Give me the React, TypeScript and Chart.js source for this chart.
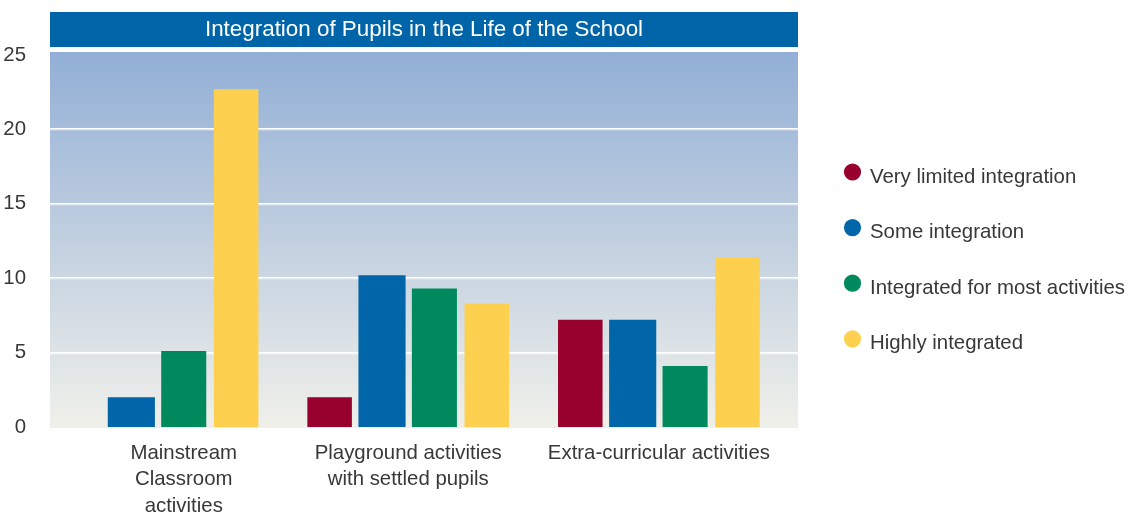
import React, { useEffect, useRef } from "react";
import { Chart, registerables } from "chart.js";

Chart.register(...registerables);

// ---------- data ----------
const TITLE = "Integration of Pupils in the Life of the School";
const CATEGORIES: string[][] = [
  ["Mainstream", "Classroom", "activities"],
  ["Playground activities", "with settled pupils"],
  ["Extra-curricular activities"],
];
const SERIES_NAMES = [
  "Very limited integration",
  "Some integration",
  "Integrated for most activities",
  "Highly integrated",
];
const VERY_LIMITED: (number | null)[] = [null, 2, 7.2];
const SOME: (number | null)[] = [2, 10.2, 7.2];
const MOST: (number | null)[] = [5.1, 9.3, 4.1];
const HIGHLY: (number | null)[] = [22.7, 8.3, 11.4];
const SERIES_VALUES = [VERY_LIMITED, SOME, MOST, HIGHLY];
const Y_MIN = 0;
const Y_MAX = 25;
const Y_STEP = 5;

// ---------- style ----------
const COLORS = ["#98002E", "#0066A9", "#00895C", "#FDD14F"];
const BAR_PCT = [0.85, 0.9, 0.86, 0.85];
const CAT_PCT = 0.836;
const X_MIN = -0.429;
const X_MAX = 2.555;
const FONT = '"Liberation Sans", Arial, Helvetica, sans-serif';
const TEXT = "#383838";
const FONT_SIZE = 20.4;

// label of a category sits under the centre of the bars it actually shows
const labelPositions = () =>
  CATEGORIES.map((_, i) => {
    const present = SERIES_VALUES.map((v, k) => (v[i] == null ? -1 : k)).filter((k) => k >= 0);
    const mean = present.reduce((a, b) => a + b, 0) / present.length;
    const n = SERIES_VALUES.length;
    return i + ((mean - (n - 1) / 2) * CAT_PCT) / n;
  });

const backdrop = {
  id: "backdrop",
  beforeDraw(chart: any) {
    const { ctx, chartArea: a } = chart;
    const top = a.top - 3;
    const bottom = a.bottom + 1;
    const g = ctx.createLinearGradient(0, top, 0, bottom);
    g.addColorStop(0, "#92AFD6");
    g.addColorStop(1, "#F0F0EA");
    ctx.save();
    ctx.fillStyle = g;
    ctx.fillRect(a.left, top, a.right - a.left, bottom - top);
    // title band
    ctx.fillStyle = "#0065A8";
    ctx.fillRect(a.left, a.top - 43, a.right - a.left, 35);
    ctx.restore();
  },
  beforeDatasetsDraw(chart: any) {
    const { ctx, chartArea: a, scales } = chart;
    const y = scales.y;
    ctx.save();
    y.ticks.forEach((t: any) => {
      if (t.value <= y.min || t.value >= y.max) return;
      const py = Math.round(y.getPixelForValue(t.value));
      ctx.fillStyle = "#ffffff";
      ctx.fillRect(a.left, py - 1, a.right - a.left, 1.5);
      ctx.fillStyle = "rgba(255,255,255,0.45)";
      ctx.fillRect(a.left, py + 0.5, a.right - a.left, 1);
    });
    ctx.restore();
  },
};

const sideLegend = {
  id: "sideLegend",
  afterDraw(chart: any) {
    const { ctx, chartArea: a } = chart;
    ctx.save();
    ctx.font = `${FONT_SIZE}px ${FONT}`;
    ctx.textBaseline = "middle";
    ctx.textAlign = "left";
    chart.data.datasets.forEach((ds: any, i: number) => {
      const y = 177 + i * 55.6;
      ctx.fillStyle = ds.backgroundColor;
      ctx.beginPath();
      ctx.arc(a.right + 54.5, y - 5, 8.6, 0, Math.PI * 2);
      ctx.fill();
      ctx.fillStyle = TEXT;
      ctx.fillText(ds.label, a.right + 72, y);
    });
    ctx.restore();
  },
};

export default function App() {
  const ref = useRef<HTMLCanvasElement | null>(null);

  useEffect(() => {
    if (!ref.current) return;
    const tickFont = { family: FONT, size: FONT_SIZE, lineHeight: 1.3 };
    const chart = new Chart(ref.current, {
      type: "bar",
      data: {
        labels: CATEGORIES.map((_, i) => i),
        datasets: SERIES_NAMES.map((name, k) => ({
          label: name,
          data: SERIES_VALUES[k],
          backgroundColor: COLORS[k],
          borderWidth: 0,
          barPercentage: BAR_PCT[k],
          categoryPercentage: CAT_PCT,
          xAxisID: "x",
          yAxisID: "y",
        })),
      },
      options: {
        responsive: false,
        animation: false,
        layout: { padding: { top: 4, right: 332, left: 0, bottom: 0 } },
        plugins: {
          legend: { display: false },
          tooltip: { enabled: false },
          title: {
            display: true,
            text: TITLE,
            color: "#ffffff",
            fullSize: false,
            font: { family: FONT, size: 22.4, weight: "normal", lineHeight: 1 },
            padding: { top: 14.3, bottom: 14.3 },
          },
        },
        scales: {
          x: {
            type: "linear",
            display: false,
            min: X_MIN,
            max: X_MAX,
            offset: false,
            afterBuildTicks: (s: any) => {
              s.ticks = CATEGORIES.map((_, i) => ({ value: i }));
            },
          },
          xl: {
            type: "linear",
            position: "bottom",
            min: X_MIN,
            max: X_MAX,
            offset: false,
            grid: { display: false },
            border: { display: false },
            ticks: {
              autoSkip: false,
              maxRotation: 0,
              minRotation: 0,
              padding: 5,
              color: TEXT,
              font: tickFont,
              callback: (v: any) => CATEGORIES[Math.round(Number(v))],
            },
            afterBuildTicks: (s: any) => {
              s.ticks = labelPositions().map((value) => ({ value }));
            },
            afterFit: (s: any) => {
              s.height = 85;
            },
          },
          y: {
            type: "linear",
            min: Y_MIN,
            max: Y_MAX,
            grid: { display: false },
            border: { display: false },
            ticks: {
              stepSize: Y_STEP,
              padding: 16,
              color: TEXT,
              font: { family: FONT, size: FONT_SIZE },
            },
            afterFit: (s: any) => {
              s.width = 50;
            },
          },
        },
      } as any,
      plugins: [backdrop, sideLegend],
    });
    return () => chart.destroy();
  }, []);

  return (
    <div style={{ position: "fixed", left: 0, top: 0, width: 1130, height: 512, background: "#fff" }}>
      <canvas ref={ref} width={1130} height={512} style={{ display: "block" }} />
    </div>
  );
}
